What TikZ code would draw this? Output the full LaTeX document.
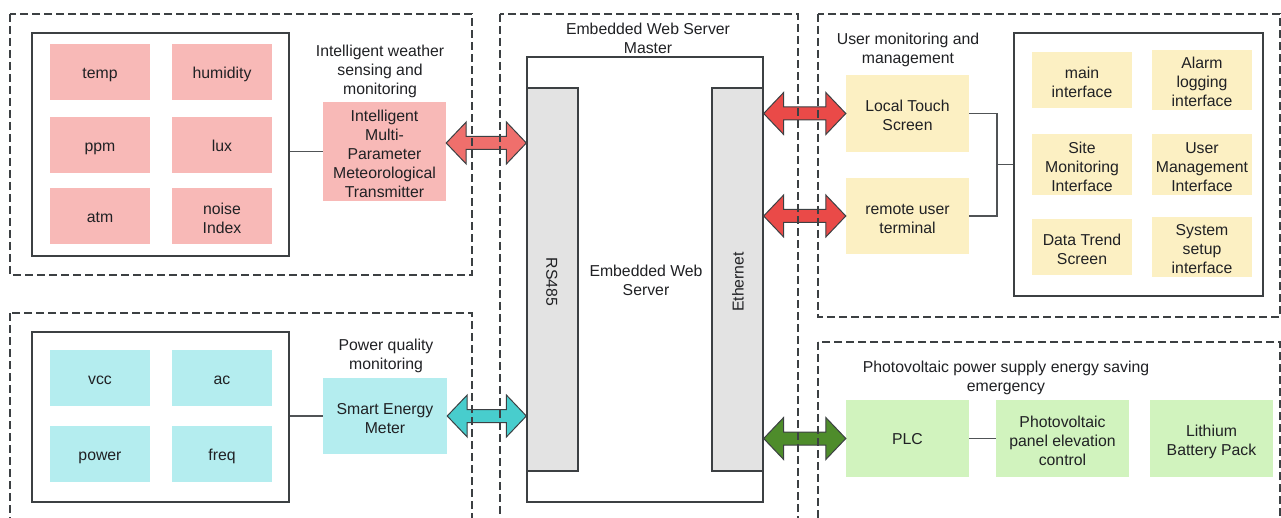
\documentclass[tikz,border=0pt]{standalone}
\usepackage{fontspec}
\setmainfont{Liberation Sans}
\usetikzlibrary{calc}
\definecolor{pinkbox}{HTML}{F8B9B7}
\definecolor{cyanbox}{HTML}{B4EDEF}
\definecolor{yelbox}{HTML}{FCF0C3}
\definecolor{grnbox}{HTML}{D1F3BE}
\definecolor{greybar}{HTML}{E3E3E3}
\definecolor{pinkarr}{HTML}{EF6F6C}
\definecolor{cyanarr}{HTML}{48CDCD}
\definecolor{redarr}{HTML}{EA4A48}
\definecolor{grnarr}{HTML}{4E8C2B}
\definecolor{edge}{HTML}{3C4043}
\definecolor{txt}{HTML}{202124}
\newcommand\linestrut{\rule[-3.35pt]{0pt}{18.8pt}}
\newcommand\topstrut{\rule{0pt}{18.8pt}}
\tikzset{
  every node/.style={font=\fontsize{15.8}{19}\selectfont, text=txt, inner sep=0pt, align=center,
    execute at begin node=\linestrut, execute at end node=\linestrut},
  panel/.style={draw=edge, line width=1.5pt, dash pattern=on 8pt off 4pt},
  frame/.style={draw=edge, line width=1.3pt},
  cell/.style={minimum width=100pt, minimum height=56pt},
  pcell/.style={cell, fill=pinkbox},
  ccell/.style={cell, fill=cyanbox},
  ycell/.style={cell, fill=yelbox},
  gcell/.style={minimum width=123pt, minimum height=77pt, fill=grnbox},
  bar/.style={draw=edge, line width=1.3pt, fill=greybar, minimum width=51pt, minimum height=383pt},
  link/.style={draw=edge!90, line width=1.2pt},
  arrbox/.style={draw=edge, line width=1pt, line join=miter},
}
\newcommand\dblarr[3]{%
  \draw[arrbox, fill=#3] let \p1=(#1), \p2=(#2) in
    (\x1,\y1) -- (\x1+20pt,\y1+21pt) -- (\x1+20pt,\y1+6.5pt) -- (\x2-20pt,\y1+6.5pt)
    -- (\x2-20pt,\y1+21pt) -- (\x2,\y1) -- (\x2-20pt,\y1-21pt) -- (\x2-20pt,\y1-6.5pt)
    -- (\x1+20pt,\y1-6.5pt) -- (\x1+20pt,\y1-21pt) -- cycle;}
\begin{document}
\begin{tikzpicture}[x=1pt,y=-1pt]
\useasboundingbox (0,0) rectangle (1281,518);
\clip (0,0) rectangle (1281,518);
\fill[white] (0,0) rectangle (1281,518);

% ---------- weather panel ----------
\node[frame, minimum width=257pt, minimum height=223pt] (wbox) at (160.5,144.5) {};
\node[pcell] (temp) at (100,72) {temp};
\node[pcell] (hum) at (222,72) {humidity};
\node[pcell] (ppm) at (100,145) {ppm};
\node[pcell] (lux) at (222,145) {lux};
\node[pcell] (atm) at (100,216) {atm};
\node[pcell] (noise) at (222,216) {\topstrut noise\\Index};
\node[fill=pinkbox, minimum width=123pt, minimum height=91pt] (tx) at (384.5,151.5)
  {\topstrut Intelligent\\Multi-\\Parameter\\Meteorological\\Transmitter};
\node (wtitle) at (380,67.5) {\topstrut Intelligent weather\\sensing and\\monitoring};
\draw[link] (tx.west) -- (tx.west -| wbox.east);

% ---------- power panel ----------
\node[frame, minimum width=257pt, minimum height=170pt] (pbox) at (160.5,417) {};
\node[ccell] (vcc) at (100,378) {vcc};
\node[ccell] (ac) at (222,378) {ac};
\node[ccell] (pow) at (100,454) {power};
\node[ccell] (freq) at (222,454) {freq};
\node[fill=cyanbox, minimum width=124pt, minimum height=76pt] (sem) at (385,416) {\topstrut Smart Energy\\Meter};
\node (ptitle) at (386,352.5) {\topstrut Power quality\\monitoring};
\draw[link] (sem.west) -- (sem.west -| pbox.east);

% ---------- server ----------
\node[frame, minimum width=236pt, minimum height=445pt] (srv) at (645,279.5) {};
\node[bar] (rs) at (552.5,279.5) {};
\node[bar] (eth) at (737.5,279.5) {};
\node[rotate=-90, xshift=2.5pt] (rstext) at (rs.center) {RS485};
\node[rotate=90, xshift=-2.5pt] (ethtext) at (eth.center) {Ethernet};
\node (stitle) at (648,36) {\topstrut Embedded Web Server\\Master};
\node (scenter) at (646,278) {\topstrut Embedded Web\\Server};

% ---------- user panel ----------
\node[frame, minimum width=249pt, minimum height=263pt] (ubox) at (1138.5,164.5) {};
\node[ycell] (mainif) at (1082,80) {\topstrut main\\interface};
\node[ycell] (alarm) at (1202,80) {\topstrut Alarm\\logging\\interface};
\node[ycell] (site) at (1082,164.5) {\topstrut Site\\Monitoring\\Interface};
\node[ycell] (user) at (1202,164.5) {\topstrut User\\Management\\Interface};
\node[ycell] (trend) at (1082,247) {\topstrut Data Trend\\Screen};
\node[ycell] (setup) at (1202,247) {\topstrut System\\setup\\interface};
\node[fill=yelbox, minimum width=123pt, minimum height=77pt] (lts) at (907.5,113.5) {\topstrut Local Touch\\Screen};
\node[fill=yelbox, minimum width=123pt, minimum height=76pt] (rut) at (907.5,216) {\topstrut remote user\\terminal};
\node (utitle) at (908,46.5) {\topstrut User monitoring and\\management};
\coordinate (bus) at (997,164.5);
\draw[link] (lts.east) -- (lts.east -| bus) -- (rut.east -| bus) -- (rut.east);
\draw[link] (bus) -- (ubox.west);

% ---------- PV panel ----------
\node[gcell] (plc) at (907.5,438.5) {PLC};
\node[fill=grnbox, minimum width=133pt, minimum height=77pt] (pv) at (1062.5,438.5) {\topstrut Photovoltaic\\panel elevation\\control};
\node[gcell] (lith) at (1211.5,438.5) {\topstrut Lithium\\Battery Pack};
\node (pvtitle) at (1006,374.5) {\topstrut Photovoltaic power supply energy saving\\emergency};
\draw[link] (plc.east) -- (pv.west);

% ---------- arrows ----------
\coordinate (a1) at ($(tx.east)+(0,8.5pt)$);
\dblarr{a1}{rs.west}{pinkarr}
\dblarr{sem.east}{rs.west}{cyanarr}
\dblarr{eth.east |- lts.west}{lts.west}{redarr}
\dblarr{eth.east |- rut.west}{rut.west}{redarr}
\dblarr{eth.east |- plc.west}{plc.west}{grnarr}

% ---------- dashed panels ----------
\draw[panel] (10,14) rectangle (472,275);
\draw[panel] (10,313) rectangle (472,540);
\draw[panel] (500,14) rectangle (798,540);
\draw[panel] (818,14) rectangle (1280,317);
\draw[panel] (818,342) rectangle (1280,540);
\end{tikzpicture}
\end{document}
